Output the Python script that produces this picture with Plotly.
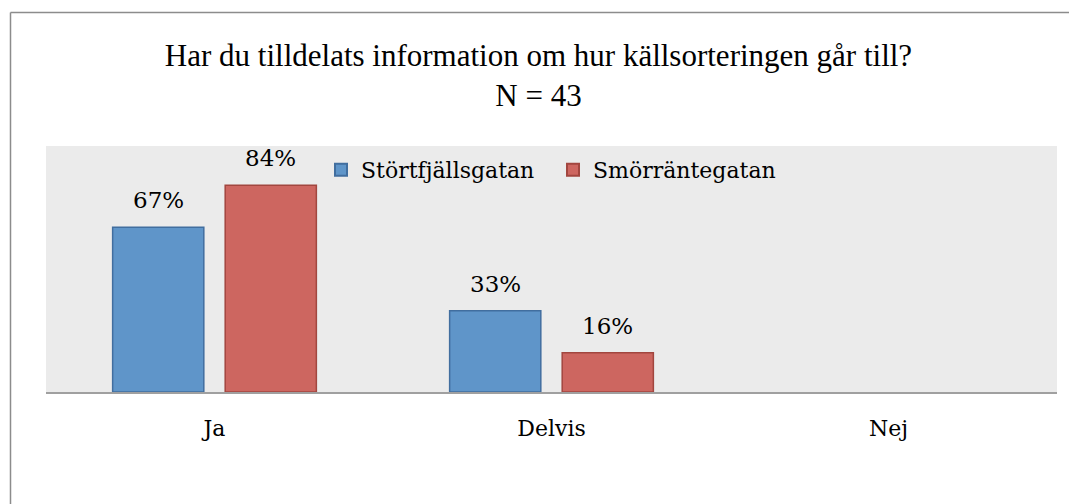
import plotly.graph_objects as go

categories = ["Ja", "Delvis", "Nej"]
series_names = ["Störtfjällsgatan", "Smörräntegatan"]
stortfjall = [0.67, 0.33, 0.0]
smorranta = [0.84, 0.16, 0.0]
labels_stortfjall = ["67%", "33%", ""]
labels_smorranta = ["84%", "16%", ""]

title_text = "Har du tilldelats information om hur källsorteringen går till?<br>N = 43"

W, H = 1077, 504
OFF = 8  # page body margin
L, R, T, B = 46 - OFF, 20 + OFF, 146 - OFF, 112 + OFF
TXT_FONT = "DejaVu Serif"
TITLE_FONT = "Liberation Serif"

blue_fill, blue_line = "#5F95C9", "#416E9F"
red_fill, red_line = "#CD6660", "#A2463F"

def line_widths(vals):
    return [1.5 if v > 0 else 0 for v in vals]

fig = go.Figure()
fig.add_trace(go.Bar(x=categories, y=stortfjall, name=series_names[0],
                     marker=dict(color=blue_fill, line=dict(color=blue_line, width=line_widths(stortfjall)))))
fig.add_trace(go.Bar(x=categories, y=smorranta, name=series_names[1],
                     marker=dict(color=red_fill, line=dict(color=red_line, width=line_widths(smorranta)))))

annotations = []
for vals, labs, shift in [(stortfjall, labels_stortfjall, -56), (smorranta, labels_smorranta, 56)]:
    for c, v, t in zip(categories, vals, labs):
        if t:
            annotations.append(dict(x=c, y=v, xref="x", yref="y", text=t, showarrow=False,
                                    xshift=shift, yshift=12, yanchor="bottom",
                                    font=dict(family=TXT_FONT, size=23, color="#000000")))

pw = W - L - R
ph = H - T - B
def px2x(px):
    return (px - OFF - L) / pw
def py2y(py):
    return (H - B - (py - OFF)) / ph

shapes = [
    dict(type="line", xref="paper", yref="paper", x0=px2x(10.5), x1=px2x(1090), y0=py2y(12.5), y1=py2y(12.5),
         line=dict(color="#8C8C8C", width=1.5)),
    dict(type="line", xref="paper", yref="paper", x0=px2x(10.5), x1=px2x(10.5), y0=py2y(12.5), y1=py2y(520),
         line=dict(color="#8C8C8C", width=1.5)),
]

fig.update_layout(
    width=W, height=H,
    margin=dict(l=L, r=R, t=T, b=B),
    paper_bgcolor="white", plot_bgcolor="#EBEBEB",
    barmode="group", bargap=0.332, bargroupgap=0.19,
    title=dict(text=title_text, x=(538.5 - OFF) / W, xanchor="center", xref="container",
               y=1 - 58 / H, yanchor="top", yref="container",
               font=dict(family=TITLE_FONT, size=31, color="#000000")),
    legend=dict(orientation="h", x=px2x(321), y=py2y(170), xanchor="left", yanchor="middle",
                bgcolor="rgba(0,0,0,0)", font=dict(family=TXT_FONT, size=22, color="#000000"),
                entrywidth=187, entrywidthmode="pixels", itemsizing="constant"),
    xaxis=dict(showgrid=False, showline=True, linecolor="#A0A0A0", linewidth=2,
               ticks="", tickfont=dict(family=TXT_FONT, size=22, color="#000000"),
               ticklabelstandoff=16),
    yaxis=dict(range=[0, 1], showgrid=False, showticklabels=False, zeroline=False, showline=False),
    annotations=annotations,
    shapes=shapes,
    showlegend=True,
)

fig.write_html("out.html")
